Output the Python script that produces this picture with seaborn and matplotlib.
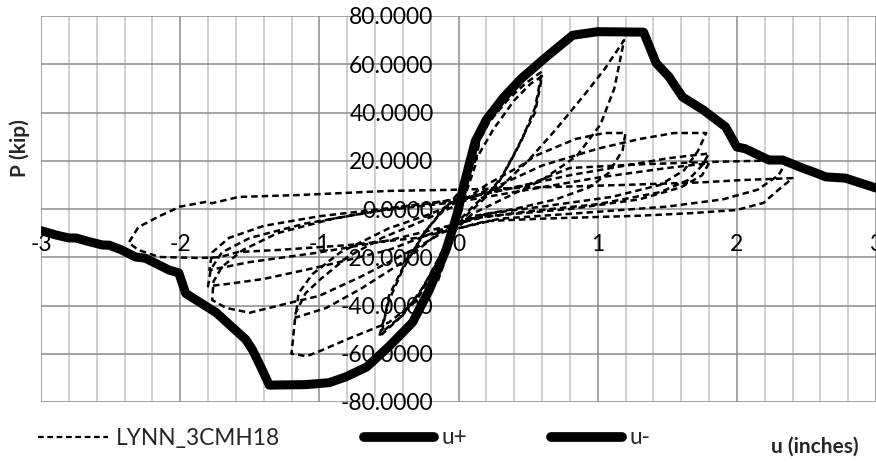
import numpy as np
import pandas as pd
import matplotlib
matplotlib.use("Agg")
import matplotlib.pyplot as plt
from matplotlib.ticker import MultipleLocator, FormatStrFormatter
from matplotlib.lines import Line2D
import seaborn as sns

# envelope u+ (positive side)
u_plus = [0.0, 0.03, 0.07, 0.12, 0.2, 0.32, 0.45, 0.63, 0.82, 1.0, 1.33, 1.42, 1.51, 1.61,
          1.76, 1.92, 2.0, 2.06, 2.23, 2.33, 2.47, 2.57, 2.64, 2.78, 2.86, 3.0]
p_plus = [0.0, 8.0, 17.0, 28.0, 37.0, 46.0, 54.0, 63.0, 72.0, 73.5, 73.3, 60.5, 55.0, 46.4,
          41.0, 34.0, 25.7, 25.0, 20.3, 20.3, 17.0, 14.9, 13.3, 12.8, 11.3, 8.7]

# envelope u- (negative side)
u_minus = [0.0, -0.04, -0.09, -0.21, -0.33, -0.5, -0.66, -0.81, -0.93, -1.1, -1.36, -1.41,
           -1.48, -1.53, -1.63, -1.74, -1.96, -2.01, -2.08, -2.25, -2.32, -2.42, -2.51,
           -2.56, -2.65, -2.75, -2.8, -2.89, -3.0]
p_minus = [0.0, -8.0, -17.0, -33.6, -47.0, -57.0, -65.5, -69.6, -72.0, -72.8, -73.0, -66.7,
           -58.4, -54.0, -48.8, -43.0, -35.0, -26.5, -25.3, -20.4, -19.9, -17.0, -15.0,
           -14.9, -13.6, -12.0, -12.0, -10.8, -9.0]

# test record LYNN_3CMH18 (cyclic path)
test_u = [
    0.0, 0.05, 0.1, 0.15, 0.12, 0.05, 0.0, -0.05, -0.1, -0.15, -0.12, -0.05, 0.0,
    0.05, 0.12, 0.22, 0.35, 0.48, 0.6,
    0.55, 0.45, 0.32, 0.18, 0.05, -0.05, -0.15, -0.28, -0.42, -0.57,
    -0.5, -0.4, -0.25, -0.1, 0.02, 0.12, 0.25, 0.4, 0.52, 0.6,
    0.55, 0.42, 0.28, 0.12, 0.0, -0.12, -0.25, -0.4, -0.55,
    -0.5, -0.38, -0.22, -0.08,
    0.1, 0.3, 0.5, 0.7, 0.9, 1.05, 1.19,
    1.12, 1.02, 0.85, 0.6, 0.35, 0.1, -0.05,
    -0.15, -0.3, -0.5, -0.8, -1.0, -1.09, -1.2,
    -1.17, -1.1, -1.0, -0.8, -0.55, -0.3, 0.0,
    0.2, 0.45, 0.55, 0.84, 1.05, 1.2,
    1.18, 1.08, 0.94, 0.7, 0.4, 0.1, -0.1,
    -0.4, -0.7, -0.95, -1.17,
    -1.15, -1.05, -0.85, -0.5, -0.2, 0.0,
    0.3, 0.6, 1.0, 1.3, 1.55, 1.78,
    1.72, 1.62, 1.45, 1.1, 0.6, 0.2, 0.0,
    -0.3, -0.7, -1.0, -1.22, -1.5, -1.67, -1.77,
    -1.76, -1.7, -1.55, -1.3, -0.9, -0.4, 0.0,
    0.4, 0.8, 1.2, 1.5, 1.8,
    1.75, 1.65, 1.45, 1.0, 0.5, 0.1, -0.1,
    -0.5, -1.0, -1.4, -1.65, -1.8,
    -1.78, -1.7, -1.5, -1.1, -0.6, 0.0,
    0.5, 1.0, 1.5, 1.8,
    1.75, 1.6, 1.3, 0.8, 0.2, 0.0,
    -0.5, -1.0, -1.5, -1.79,
    -1.77, -1.65, -1.4, -1.0, -0.4, 0.0,
    0.5, 0.8, 1.3, 1.8, 2.17, 2.36,
    2.3, 2.15, 1.9, 1.5, 0.8, 0.3, 0.0,
    -0.3, -0.8, -1.3, -1.58, -1.72, -1.86, -2.15, -2.3, -2.37,
    -2.3, -2.15, -2.0, -1.81, -1.77, -1.58, -1.14, -0.5, 0.0,
    0.6, 1.2, 1.73, 2.04, 2.4,
    2.3, 2.19, 2.0, 1.68, 1.3, 0.6, 0.2, 0.0,
]
test_p = [
    0.0, 10.0, 20.0, 28.0, 18.0, 6.0, -3.0, -12.0, -22.0, -30.0, -20.0, -8.0, 2.0,
    12.0, 25.0, 36.0, 45.0, 52.0, 57.0,
    42.0, 28.0, 14.0, 4.0, -3.0, -10.0, -22.0, -35.0, -45.0, -53.0,
    -38.0, -25.0, -10.0, 0.0, 8.0, 20.0, 33.0, 45.0, 52.0, 55.0,
    40.0, 25.0, 10.0, 2.0, -5.0, -18.0, -32.0, -44.0, -51.0,
    -36.0, -22.0, -8.0, 2.0,
    5.0, 9.0, 20.0, 33.0, 47.0, 58.0, 70.0,
    50.0, 35.0, 22.0, 12.0, 5.0, -2.0, -10.0,
    -22.0, -38.0, -47.0, -54.0, -59.0, -61.0, -60.0,
    -43.0, -35.0, -29.5, -20.0, -12.0, -6.0, 2.0,
    10.0, 18.0, 22.0, 29.0, 31.5, 31.5,
    24.5, 15.0, 9.0, 4.0, 0.0, -3.0, -8.0,
    -22.0, -33.0, -41.0, -45.0,
    -35.0, -27.0, -18.0, -8.0, -2.0, 3.0,
    10.0, 18.0, 25.0, 29.0, 31.5, 31.5,
    24.0, 16.0, 10.0, 5.0, 1.0, -2.0, -6.0,
    -16.0, -28.0, -36.0, -39.0, -43.0, -41.0, -37.7,
    -30.0, -24.0, -17.0, -10.0, -4.0, 1.0, 4.0,
    9.0, 14.0, 18.0, 21.0, 23.0,
    18.0, 12.0, 7.0, 2.0, -1.0, -4.0, -8.0,
    -17.0, -24.0, -29.0, -31.0, -32.0,
    -25.0, -18.0, -12.0, -6.0, -1.0, 3.0,
    8.0, 13.0, 17.0, 19.0,
    14.0, 9.0, 4.0, 0.0, -3.0, -6.0,
    -13.0, -18.0, -22.0, -25.3,
    -18.0, -12.0, -7.0, -3.0, 1.0, 4.0,
    10.0, 17.0, 18.5, 19.5, 20.0, 20.0,
    14.0, 8.0, 4.0, 1.0, -2.0, -4.0, -8.0,
    -12.0, -15.0, -17.0, -17.8, -20.0, -20.3, -19.9, -17.0, -14.0,
    -7.5, -3.0, 1.0, 3.0, 2.4, 5.0, 5.8, 7.5, 8.0,
    9.0, 10.0, 11.0, 12.0, 12.8,
    8.0, 2.5, -0.4, -1.7, -2.8, -4.0, -5.0, -8.0,
]

y_ticks = [-80, -60, -40, -20, 0, 20, 40, 60, 80]
x_ticks = [-3, -2, -1, 0, 1, 2, 3]

sns.set_style("white")
plt.rcParams["font.family"] = ["Lato", "DejaVu Sans"]
plt.rcParams["axes.unicode_minus"] = False

fig = plt.figure(figsize=(8.76, 4.63), dpi=100)
ax = fig.add_axes([41 / 876, 61 / 463, 835 / 876, 386 / 463])

df_test = pd.DataFrame({"u": test_u, "P": test_p})
df_plus = pd.DataFrame({"u": u_plus, "P": p_plus})
df_minus = pd.DataFrame({"u": u_minus, "P": p_minus})

dash = (0, (2.6, 1.6))
sns.lineplot(data=df_test, x="u", y="P", sort=False, estimator=None, ax=ax,
             color="black", linewidth=1.8, linestyle=dash)
sns.lineplot(data=df_plus, x="u", y="P", sort=False, estimator=None, ax=ax,
             color="black", linewidth=6.5, solid_joinstyle="round", solid_capstyle="round")
sns.lineplot(data=df_minus, x="u", y="P", sort=False, estimator=None, ax=ax,
             color="black", linewidth=6.5, solid_joinstyle="round", solid_capstyle="round")

ax.set_xlim(-3, 3)
ax.set_ylim(-80, 80)
ax.set_xticks(x_ticks)
ax.set_yticks(y_ticks)
ax.xaxis.set_minor_locator(MultipleLocator(0.2))
ax.yaxis.set_major_formatter(FormatStrFormatter("%.4f"))
ax.xaxis.set_major_formatter(FormatStrFormatter("%d"))

ax.set_axisbelow(True)
ax.grid(which="major", axis="both", color="#8c8c8c", linewidth=1.1)
ax.grid(which="minor", axis="x", color="#c4c4c4", linewidth=1.1)

for s in ax.spines.values():
    s.set_visible(False)
ax.spines["left"].set_position(("data", 0))
ax.spines["bottom"].set_position(("data", 0))
ax.tick_params(axis="both", which="both", length=0, labelsize=16.5, colors="black")
ax.tick_params(axis="y", pad=18)
ax.tick_params(axis="x", pad=18)

ax.set_xlabel("")
ax.set_ylabel("")
if ax.get_legend():
    ax.get_legend().remove()

fig.text(20 / 876, 1 - 148 / 463, "P (kip)", rotation=90, ha="center", va="center",
         fontsize=15, fontweight="bold")
fig.text(815 / 876, 1 - 447 / 463, "u (inches)", ha="center", va="center",
         fontsize=15, fontweight="bold")

handles = [
    Line2D([], [], color="black", linewidth=1.6, linestyle=dash),
    Line2D([], [], color="black", linewidth=7, solid_capstyle="round"),
    Line2D([], [], color="black", linewidth=7, solid_capstyle="round"),
]
fig.legend(handles, ["LYNN_3CMH18", "u+", "u-"], ncol=3, frameon=False,
           loc="center left", bbox_to_anchor=(22 / 876, 1 - 438 / 463),
           fontsize=16.3, handlelength=3.1, handletextpad=0.35, columnspacing=3.7,
           borderpad=0.2)

fig.savefig("out.png", dpi=100)
